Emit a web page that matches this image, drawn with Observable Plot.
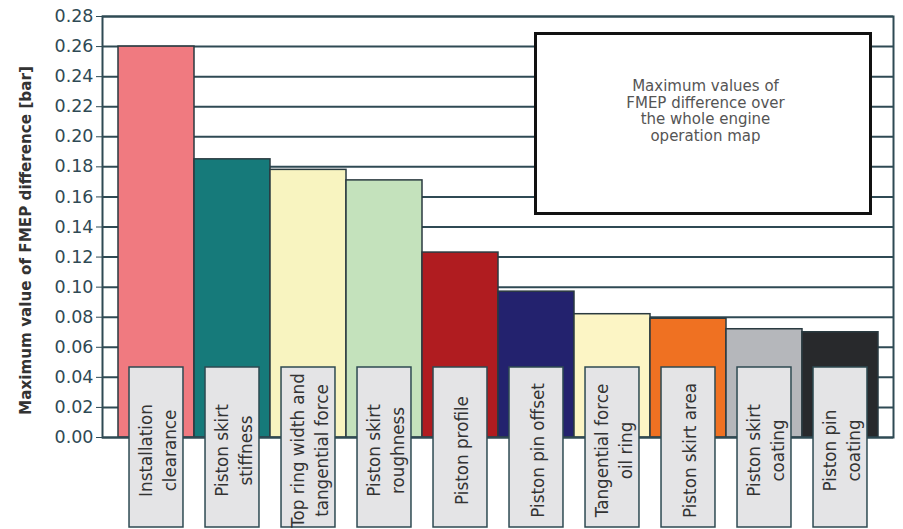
<!DOCTYPE html>
<html>
<head>
<meta charset="utf-8">
<script src="https://cdn.jsdelivr.net/npm/d3@7"></script>
<script src="https://cdn.jsdelivr.net/npm/@observablehq/plot@0.6"></script>
<style>
  html, body { margin: 0; padding: 0; background: #fff; }
  #chart svg { display: block; }
</style>
</head>
<body>
<div id="chart"></div>
<script>
// Parameters, in descending order of their effect on FMEP
const categories = [
  "Installation\nclearance",
  "Piston skirt\nstiffness",
  "Top ring width and\ntangential force",
  "Piston skirt\nroughness",
  "Piston profile",
  "Piston pin offset",
  "Tangential force\noil ring",
  "Piston skirt area",
  "Piston skirt\ncoating",
  "Piston pin\ncoating"
];
// Maximum FMEP difference over the engine map [bar]
const values = [0.260, 0.185, 0.178, 0.171, 0.123, 0.097, 0.082, 0.079, 0.072, 0.070];
const colors = [
  "#f07a80", "#167a7a", "#f8f4c0", "#c4e2bc", "#b01c20",
  "#23226e", "#fcf5c5", "#ef7122", "#b5b7bb", "#28292c"
];
const yTicks = [0, 0.02, 0.04, 0.06, 0.08, 0.10, 0.12, 0.14, 0.16, 0.18, 0.20, 0.22, 0.24, 0.26, 0.28];
const yTitle = "Maximum value of FMEP difference [bar]";
const note = "Maximum values of\nFMEP difference over\nthe whole engine\noperation map";

const data = categories.map((c, i) => ({category: c, value: values[i], color: colors[i]}));

const gridColor = "#2f4a54";

const chart = Plot.plot({
  width: 903,
  height: 529,
  marginTop: 16,
  marginBottom: 92,
  marginLeft: 102,
  marginRight: 10,
  style: {fontFamily: "DejaVu Sans, sans-serif", fontSize: "17.5px", color: gridColor, background: "#fff"},
  x: {type: "band", domain: categories, paddingInner: 0, paddingOuter: 0.2, axis: null},
  y: {
    domain: [0, 0.28],
    ticks: yTicks,
    tickFormat: d3.format(".2f"),
    tickSize: 6,
    tickPadding: 3,
    label: null
  },
  marks: [
    Plot.ruleY(yTicks, {stroke: gridColor, strokeWidth: 2}),
    Plot.barY(data, {x: "category", y: "value", fill: "color", stroke: "#2a3a40", strokeWidth: 1.5}),
    Plot.frame({stroke: gridColor, strokeWidth: 2}),
    // note box in the upper right of the frame
    Plot.frame({fill: "#fff", stroke: "#111", strokeWidth: 3,
      insetLeft: 433, insetTop: 17, insetRight: 23, insetBottom: 224}),
    Plot.text([note], {frameAnchor: "top-left", dx: 603, dy: 94, textAnchor: "middle", lineAnchor: "middle",
      lineHeight: 1.1, fontSize: 15, fill: "#555"}),
    Plot.text([yTitle], {frameAnchor: "left", dx: -76, dy: 13.5, rotate: -90, textAnchor: "middle",
      lineAnchor: "middle", fontSize: 15.2, fontWeight: "bold", fill: "#333"}),
    Plot.text(categories, {x: d => d, frameAnchor: "bottom", dy: 13, rotate: -90, textAnchor: "middle",
      lineAnchor: "middle", lineHeight: 1.42, fontSize: 16.75, fill: "#333"})
  ]
});

// tick labels in grey, tick lines stay dark
d3.select(chart).selectAll('g[aria-label="y-axis"] text').attr("fill", "#666");
d3.select(chart).selectAll('g[aria-label="y-axis"] .domain').remove();

// grey label boxes hanging below each bar
const xs = chart.scale("x");
const textGroups = chart.querySelectorAll('g[aria-label="text"]');
const labelGroup = textGroups[textGroups.length - 1];
const boxes = d3.create("svg:g").attr("aria-label", "label boxes");
const bw = xs.bandwidth;
const boxW = bw * 0.71;
const baseY = 529 - 92;
boxes.selectAll("rect")
  .data(categories)
  .join("rect")
  .attr("x", d => xs.apply(d) + (bw - boxW) / 2)
  .attr("y", baseY - 70)
  .attr("width", boxW)
  .attr("height", 160)
  .attr("fill", "#e4e4e6")
  .attr("stroke", "#2e4a52")
  .attr("stroke-width", 1.5);
labelGroup.parentNode.insertBefore(boxes.node(), labelGroup);

document.getElementById("chart").append(chart);
</script>
</body>
</html>
